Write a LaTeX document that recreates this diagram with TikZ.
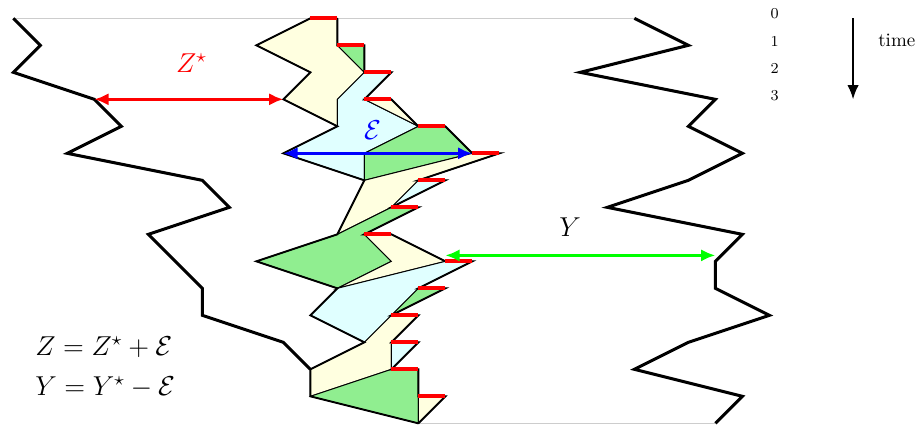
\documentclass[tikz,border=0pt]{standalone}
\usetikzlibrary{arrows.meta}
\definecolor{cYellow}{RGB}{255,255,224}
\definecolor{cGreen}{RGB}{144,238,144}
\definecolor{cCyan}{RGB}{224,255,255}
\definecolor{cGrey}{RGB}{205,205,205}

\begin{document}
\begin{tikzpicture}[x=0.5cm, y=0.5cm,
            wk/.style={draw=black, line width=1.6pt},
            pc/.style={draw=black, line width=0.5pt},
            bd/.style={draw=black, line width=1pt},
            rs/.style={draw=red, line width=2pt},
            ar/.style={line width=1.6pt, {Latex[length=7.5pt,width=6.5pt]}-{Latex[length=7.5pt,width=6.5pt]}},
            lb/.style={font=\Large, inner sep=0pt}]
            \useasboundingbox (-0.494,0.679) rectangle (33.543,-15.063);
            \draw[cGrey, line width=0.5pt] (0,0) -- (23,0) (15,-15) -- (26,-15);
            \draw[wk] (0,0) -- (1,-1) -- (0,-2) -- (3,-3) -- (4,-4) -- (2,-5) -- (7,-6) -- (8,-7) -- (5,-8)
                -- (7,-10) -- (7,-11) -- (10,-12) -- (11,-13);
            \draw[wk] (23,0) -- (25,-1) -- (21,-2) -- (26,-3) -- (25,-4) -- (27,-5) -- (25,-6) -- (22,-7) -- (27,-8)
                -- (26,-9) -- (26,-10) -- (28,-11) -- (25,-12) -- (23,-13) -- (27,-14) -- (26,-15);
            \filldraw[pc, fill=cYellow] (11,0) -- (9,-1) -- (11,-2) -- (10,-3) -- (12,-4) -- (12,-3) -- (13,-2) -- (12,-1) -- (12,0) -- cycle;
            \filldraw[pc, fill=cGreen]  (12,-1) -- (13,-1) -- (13,-2) -- cycle;
            \filldraw[pc, fill=cCyan]   (12,-3) -- (13,-2) -- (14,-2) -- (13,-3) -- (15,-4) -- (13,-5) -- (13,-6) -- (10,-5) -- (12,-4) -- cycle;
            \filldraw[pc, fill=cYellow] (13,-3) -- (14,-3) -- (15,-4) -- cycle;
            \filldraw[pc, fill=cGreen]  (15,-4) -- (16,-4) -- (17,-5) -- (13,-6) -- (13,-5) -- cycle;
            \filldraw[pc, fill=cYellow] (13,-6) -- (17,-5) -- (18,-5) -- (15,-6) -- (14,-7) -- (12,-8) -- cycle;
            \filldraw[pc, fill=cCyan]   (15,-6) -- (16,-6) -- (14,-7) -- cycle;
            \filldraw[pc, fill=cGreen]  (12,-8) -- (14,-7) -- (15,-7) -- (13,-8) -- (14,-9) -- (12,-10) -- (9,-9) -- cycle;
            \filldraw[pc, fill=cYellow] (13,-8) -- (14,-8) -- (16,-9) -- (12,-10) -- (14,-9) -- cycle;
            \filldraw[pc, fill=cCyan]   (12,-10) -- (16,-9) -- (17,-9) -- (15,-10) -- (14,-11) -- (13,-12) -- (11,-11) -- cycle;
            \filldraw[pc, fill=cGreen]  (15,-10) -- (16,-10) -- (14,-11) -- cycle;
            \filldraw[pc, fill=cYellow] (13,-12) -- (14,-11) -- (15,-11) -- (14,-12) -- (14,-13) -- (11,-14) -- (11,-13) -- cycle;
            \filldraw[pc, fill=cCyan]   (14,-12) -- (15,-12) -- (14,-13) -- cycle;
            \filldraw[pc, fill=cGreen]  (11,-14) -- (14,-13) -- (15,-13) -- (15,-15) -- cycle;
            \filldraw[pc, fill=cYellow] (15,-14) -- (16,-14) -- (15,-15) -- cycle;
            \draw[bd] (11,0) -- (9,-1) -- (11,-2) -- (10,-3) -- (12,-4) -- (10,-5) -- (13,-6) -- (12,-8) -- (9,-9) -- (12,-10)
                -- (11,-11) -- (13,-12) -- (11,-13) -- (11,-14) -- (15,-15);
            \draw[bd] (12,0) -- (12,-1) -- (13,-1) -- (13,-2) -- (14,-2) -- (13,-3) -- (14,-3) -- (15,-4) -- (16,-4) -- (17,-5)
                -- (18,-5) -- (15,-6) -- (16,-6) -- (14,-7) -- (15,-7) -- (13,-8) -- (14,-8) -- (16,-9) -- (17,-9) -- (15,-10)
                -- (16,-10) -- (14,-11) -- (15,-11) -- (14,-12) -- (15,-12) -- (14,-13) -- (15,-13) -- (15,-14) -- (16,-14) -- (15,-15);
            \draw[rs] (11,0) -- (12,0) (12,-1) -- (13,-1) (13,-2) -- (14,-2) (13,-3) -- (14,-3) (15,-4) -- (16,-4)
                (17,-5) -- (18,-5) (15,-6) -- (16,-6) (14,-7) -- (15,-7) (13,-8) -- (14,-8) (16,-9) -- (17,-9)
                (15,-10) -- (16,-10) (14,-11) -- (15,-11) (14,-12) -- (15,-12) (14,-13) -- (15,-13) (15,-14) -- (16,-14);
            \coordinate (zsL) at (3,-3);
            \coordinate (zsR) at (10,-3);
            \coordinate (epL) at (10,-5);
            \coordinate (epR) at (17,-5);
            \coordinate (yL)  at (16,-8.78);
            \coordinate (yR)  at (26,-8.78);
            \coordinate (tA)  at (31.1,0);
            \coordinate (tB)  at (31.1,-3);
            \draw[ar, red]   (zsL) -- (zsR);
            \draw[ar, blue]  (epL) -- (epR);
            \draw[ar, green] (yL) -- (yR);
            \draw[line width=0.9pt, -{Latex[length=7.5pt,width=6pt]}] (tA) -- (tB);
            \node[lb, red]  (lZs) at (6.6,-1.67)  {$Z^\star$};
            \node[lb, blue] (lE)  at (13.3,-4.14) {$\mathcal{E}$};
            \node[lb]       (lY)  at (20.62,-7.73) {$Y$};
            \node[lb, anchor=west] (eqZ) at (0.8,-12.19) {$Z = Z^\star + \mathcal{E}$};
            \node[lb, anchor=west] (eqY) at (0.8,-13.67) {$Y = Y^\star - \mathcal{E}$};
            \node[font=\footnotesize] (t0) at (28.2,0.16)  {0};
            \node[font=\footnotesize] (t1) at (28.2,-0.86) {1};
            \node[font=\footnotesize] (t2) at (28.2,-1.86) {2};
            \node[font=\footnotesize] (t3) at (28.2,-2.88) {3};
            \node (lt) at (32.72,-0.83) {time};
        \end{tikzpicture}
\end{document}
